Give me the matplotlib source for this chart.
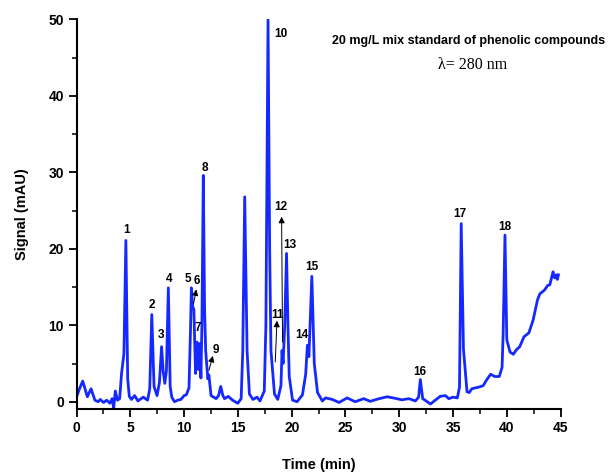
import matplotlib
matplotlib.use("Agg")
import matplotlib.pyplot as plt
from matplotlib.ticker import MultipleLocator

# Chromatogram trace
time_min = [0.0, 0.3, 0.57, 0.8, 1.0, 1.34, 1.7, 2.0, 2.2, 2.5, 2.8, 3.1, 3.3, 3.45, 3.6, 3.8, 4.0,
            4.18, 4.4, 4.58, 4.75, 4.9, 5.1, 5.4, 5.7, 6.2, 6.6, 6.8, 6.99, 7.2, 7.48, 7.7, 7.9,
            8.05, 8.2, 8.35, 8.53, 8.7, 8.85, 9.1, 9.4, 9.7, 10.0, 10.2, 10.45, 10.6, 10.67, 10.8,
            10.9, 11.06, 11.2, 11.35, 11.43, 11.56, 11.65, 11.78, 11.9, 12.0, 12.2, 12.3, 12.5,
            12.97, 13.2, 13.4, 13.6, 13.75, 14.1, 14.5, 14.99, 15.3, 15.45, 15.63, 15.85, 16.07,
            16.4, 16.77, 17.05, 17.45, 17.6, 17.8, 17.95, 18.07, 18.4, 18.7, 19.0, 19.1, 19.2,
            19.35, 19.52, 19.65, 19.77, 20.08, 20.5, 21.0, 21.3, 21.46, 21.6, 21.87, 22.1, 22.4,
            22.85, 23.15, 23.77, 24.4, 25.15, 25.9, 26.7, 27.3, 28.0, 28.87, 29.6, 30.25, 30.9,
            31.5, 31.8, 31.96, 32.18, 32.4, 32.9, 33.35, 33.8, 34.3, 34.6, 35.0, 35.4, 35.6,
            35.76, 35.97, 36.3, 36.5, 36.75, 37.36, 37.8, 38.1, 38.5, 38.87, 39.3, 39.56, 39.66,
            39.83, 40.0, 40.3, 40.6, 40.9, 41.2, 41.6, 42.05, 42.45, 42.85, 43.07, 43.5, 43.8,
            44.0, 44.3, 44.45, 44.6, 44.7, 44.8]
signal_mau = [0.65, 1.8, 2.7, 1.6, 0.65, 1.7, 0.2, 0.0, 0.3, -0.1, 0.2, -0.2, 0.4, -0.8, 1.4, 0.2, 0.4,
              3.7, 6.3, 21.1, 3.0, 0.7, 0.3, 0.8, 0.1, 0.6, 0.2, 1.7, 11.4, 2.0, 0.8, 2.5, 7.2,
              4.0, 2.4, 4.0, 14.9, 2.0, 0.6, 0.0, 0.2, 0.3, 0.8, 0.9, 1.8, 10.0, 14.9, 12.4,
              12.1, 3.7, 7.8, 4.2, 7.6, 3.1, 10.0, 29.6, 12.0, 6.7, 3.0, 3.5, 0.8,
              0.4, 0.8, 2.0, 0.8, 0.4, 0.7, 0.2, -0.2, 0.4, 6.7, 26.8, 6.7, 1.0,
              0.3, 0.6, 0.1, 1.4, 10.0, 50.0, 20.0, 6.7, 1.0, 0.3, 2.1, 6.7, 5.0,
              10.0, 19.4, 10.0, 3.3, 0.2, 0.0, 0.9, 3.6, 7.4, 5.9, 16.4, 5.0, 1.2,
              0.1, 0.5, 0.3, -0.1, 0.5, 0.0, 0.4, 0.05, 0.35, 0.65, 0.45, 0.25, 0.4,
              0.1, 0.6, 2.9, 0.4, 0.2, -0.3, 0.2, 0.7, 0.8, 0.4, 0.6, 0.5, 1.9,
              23.3, 6.9, 1.3, 1.2, 1.7, 1.9, 2.1, 2.8, 3.6, 3.3, 3.3, 4.5, 8.9,
              21.8, 8.1, 6.5, 6.2, 6.8, 7.2, 8.5, 9.0, 10.7, 13.3, 14.1, 14.6, 15.2,
              15.3, 17.0, 16.2, 16.6, 16.0, 16.6]

# Peak labels (no arrow)
peak_labels = ["1", "2", "3", "4", "5", "7", "8", "10", "13", "14", "15", "16", "17", "18"]
label_t = [4.6, 7.0, 7.83, 8.56, 10.35, 11.28, 11.9, 18.95, 19.86, 20.9, 21.87, 31.9, 35.66, 39.77]
label_s = [22.5, 12.6, 8.7, 16.1, 16.0, 9.6, 30.6, 48.1, 20.5, 8.7, 17.6, 3.9, 24.5, 22.8]

# Peak labels with arrows: label, text position, arrow start, arrow end
arrow_labels = ["6", "9", "11", "12"]
arrow_text_t = [11.19, 12.92, 18.7, 19.03]
arrow_text_s = [15.8, 6.8, 11.3, 25.5]
arrow_from_t = [10.88, 12.3, 18.47, 19.15]
arrow_from_s = [12.85, 4.1, 5.2, 7.8]
arrow_to_t = [11.13, 12.67, 18.63, 19.06]
arrow_to_s = [14.7, 6.0, 10.6, 24.2]

plt.rcParams['font.family'] = ['Liberation Sans', 'DejaVu Sans']

fig = plt.figure(figsize=(6.08, 4.72), dpi=100)
ax = fig.add_axes([0.126, 0.1335, 0.796, 0.8252])

ax.plot(time_min, signal_mau, color='#1428ff', lw=2.0, solid_joinstyle='round')

for lab, t, s in zip(peak_labels, label_t, label_s):
    ax.text(t, s, lab, ha='center', va='center', fontsize=8.5, fontweight='bold')

for lab, tt, ts, ft, fs, et, es in zip(arrow_labels, arrow_text_t, arrow_text_s,
                                        arrow_from_t, arrow_from_s, arrow_to_t, arrow_to_s):
    ax.text(tt, ts, lab, ha='center', va='center', fontsize=8.5, fontweight='bold')
    ax.annotate('', xy=(et, es), xytext=(ft, fs),
                arrowprops=dict(arrowstyle='-|>', lw=0.7, color='black', mutation_scale=9,
                                shrinkA=0, shrinkB=0))

ax.set_xlim(0, 45)
ax.set_ylim(-0.95, 50)
ax.spines['top'].set_visible(False)
ax.spines['right'].set_visible(False)
for sp in ['left', 'bottom']:
    ax.spines[sp].set_linewidth(1.5)
ax.spines['left'].set_bounds(-0.95, 50)

ax.xaxis.set_major_locator(MultipleLocator(5))
ax.xaxis.set_minor_locator(MultipleLocator(2.5))
ax.yaxis.set_major_locator(MultipleLocator(10))
ax.yaxis.set_minor_locator(MultipleLocator(5))
ax.tick_params(which='major', direction='out', length=6, width=1.3, labelsize=10, pad=3)
ax.tick_params(which='minor', direction='out', length=3.5, width=1.1)
for lab in ax.get_xticklabels() + ax.get_yticklabels():
    lab.set_fontweight('bold')

ax.set_xlabel('Time (min)', fontsize=10.5, fontweight='bold', labelpad=16)
ax.set_ylabel('Signal (mAU)', fontsize=10.5, fontweight='bold', labelpad=14)

fig.text(0.77, 0.913, '20 mg/L mix standard of phenolic compounds', ha='center', va='center',
         fontsize=9, fontweight='bold')
fig.text(0.778, 0.862, 'λ= 280 nm', ha='center', va='center', fontsize=11.5,
         family=['Liberation Serif', 'DejaVu Serif'])

fig.savefig('out.png', dpi=100, facecolor='white')
